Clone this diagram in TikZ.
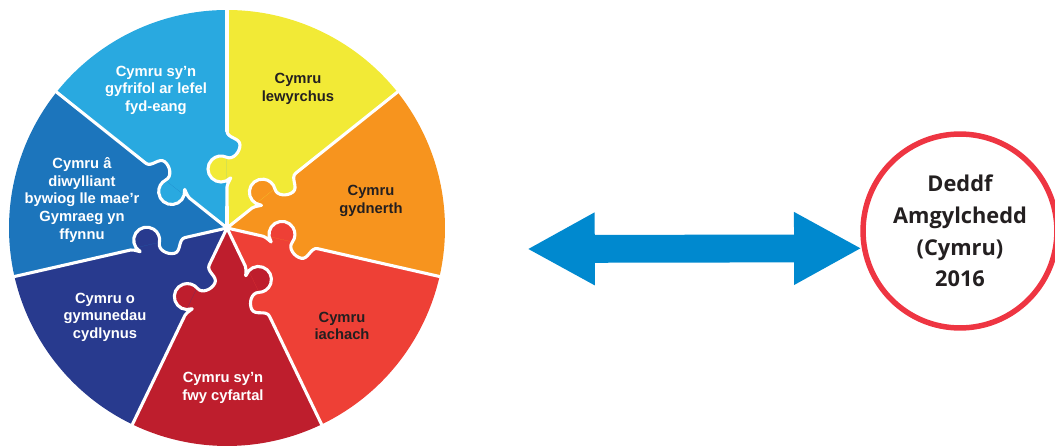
\documentclass[tikz,border=0pt]{standalone}
\usepackage{fontspec}
\setmainfont{Liberation Sans}
\newfontfamily\lawfont{Open Sans}
\usetikzlibrary{arrows.meta}

\definecolor{wyellow}{HTML}{F2EA36}
\definecolor{worange}{HTML}{F7941E}
\definecolor{wred}{HTML}{EE4036}
\definecolor{wdarkred}{HTML}{BE1E2D}
\definecolor{wnavy}{HTML}{283A8E}
\definecolor{wmidblue}{HTML}{1C75BC}
\definecolor{wlightblue}{HTML}{29A9E0}
\definecolor{wdark}{HTML}{231F20}
\definecolor{arrowblue}{HTML}{0089CF}
\definecolor{lawred}{HTML}{EE3542}

\tikzset{
  piecetext/.style={align=center, text=white, font=\bfseries\fontsize{10.5}{12.5}\selectfont},
  seam/.style={white, line width=2.2pt, line join=round, line cap=round},
  twoway/.style={arrowblue, line width=19.8pt,
    {Triangle[length=48.2pt,width=48.2pt]}-{Triangle[length=48.2pt,width=48.2pt]}},
  lawcircle/.style={circle, draw=lawred, line width=3.9pt, minimum size=137.9pt,
    inner sep=0pt, align=center, text=wdark, font=\lawfont\bfseries\fontsize{15.5}{22.5}\selectfont}
}

% one jigsaw tab, knob towards +y
\newcommand{\tabpath}{(-38,0) -- (-18,0) to[out=0,in=-45] (-9.19,-3.19)
  arc[start angle=225,end angle=-25,radius=13] to[out=-115,in=180] (24,-13)
  to[out=0,in=180] (38,0)}

% #1 angle, #2 distance of the tab, #3 0 or 180, #4 owner, #5 neighbour
\newcommand{\tabedge}[5]{%
  \begin{scope}[shift={(wheel)}, rotate=#1]
    \begin{scope}[shift={(#2,0)}, rotate=#3]
      \begin{scope}
        \clip (-42,-1) rectangle (42,30);
        \fill[#4] \tabpath -- (38,-1) -- (-38,-1) -- cycle;
      \end{scope}
      \begin{scope}
        \clip (-42,1) rectangle (42,-30);
        \fill[#5] \tabpath -- (38,1) -- (-38,1) -- cycle;
      \end{scope}
      \draw[seam] \tabpath;
    \end{scope}
    \draw[seam] (0,0) -- (#2-38,0) (#2+38,0) -- (218,0);
  \end{scope}}

\begin{document}
\begin{tikzpicture}[x=0.025cm, y=0.025cm]
\useasboundingbox (0,0) rectangle (1055,447);

\coordinate (wheel) at (227,219);
\fill[wyellow] (wheel) -- ++(38.571:218) arc[start angle=38.571, end angle=90, radius=218] -- cycle;
\fill[worange] (wheel) -- ++(-12.857:218) arc[start angle=-12.857, end angle=38.571, radius=218] -- cycle;
\fill[wred] (wheel) -- ++(-64.286:218) arc[start angle=-64.286, end angle=-12.857, radius=218] -- cycle;
\fill[wdarkred] (wheel) -- ++(-115.714:218) arc[start angle=-115.714, end angle=-64.286, radius=218] -- cycle;
\fill[wnavy] (wheel) -- ++(-167.143:218) arc[start angle=-167.143, end angle=-115.714, radius=218] -- cycle;
\fill[wmidblue] (wheel) -- ++(141.429:218) arc[start angle=141.429, end angle=192.857, radius=218] -- cycle;
\fill[wlightblue] (wheel) -- ++(90:218) arc[start angle=90, end angle=141.429, radius=218] -- cycle;

\tabedge{90}{59}{0}{wyellow}{wlightblue}
\tabedge{38.571}{50}{0}{worange}{wyellow}
\tabedge{-12.857}{55}{0}{wred}{worange}
\tabedge{-64.286}{60}{0}{wdarkred}{wred}
\tabedge{-115.714}{79}{180}{wdarkred}{wnavy}
\tabedge{-167.143}{81}{180}{wnavy}{wmidblue}
\tabedge{141.429}{66}{0}{wlightblue}{wmidblue}

\node[piecetext, text=wdark] (lewyrchus) at (298,358) {Cymru\\lewyrchus};
\node[piecetext, text=wdark] (gydnerth) at (371,246) {Cymru\\gydnerth};
\node[piecetext, text=wdark] (iachach) at (342,121) {Cymru\\iachach};
\node[piecetext] (cyfartal) at (223,59) {Cymru sy’n\\fwy cyfartal};
\node[piecetext] (cydlynus) at (105,130) {Cymru o\\gymunedau\\cydlynus};
\node[piecetext] (diwylliant) at (82,247) {Cymru â\\diwylliant\\bywiog lle mae’r\\Gymraeg yn\\ffynnu};
\node[piecetext] (fydeang) at (156,357) {Cymru sy’n\\gyfrifol ar lefel\\fyd-eang};

\node[lawcircle] (law) at (960,216) {Deddf\\Amgylchedd\\(Cymru)\\2016};

\coordinate (arrowtail) at (527,198);
\draw[twoway] (arrowtail) -- (law.190.4);
\end{tikzpicture}
\end{document}
